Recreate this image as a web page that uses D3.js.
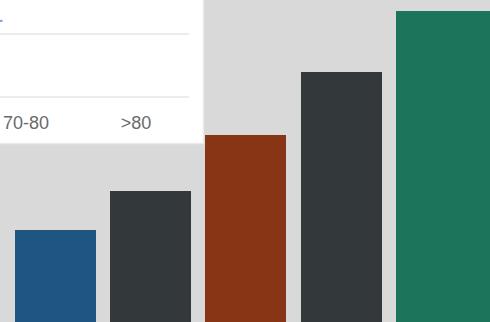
<!DOCTYPE html>
<html><head><meta charset="utf-8">
<script src="https://cdn.jsdelivr.net/npm/d3@7"></script>
<style>html,body{margin:0;padding:0;background:#d9d9d9;overflow:hidden}</style>
</head><body>
<svg id="c" width="490" height="322"></svg>
<script>
const barCategories = ["A","B","C","D","E"];
const barValues = [92, 131, 187, 250, 311];
const barColors = ["#1f5581", "#33383a", "#873514", "#33383a", "#1c755b"];
const insetCategories = ["60-70", "70-80", ">80"];
const insetGridValues = [0, 1];
const insetLine = [{c: "60-70", v: 1.24}];

const svg = d3.select("#c");
svg.append("rect").attr("width",490).attr("height",322).attr("fill","#d9d9d9");

// main bars
const x = d3.scaleBand().domain(barCategories).range([15, 477]).paddingInner(0.1496).paddingOuter(0);
const y = d3.scaleLinear().domain([0, 322]).range([322, 0]);
svg.selectAll("rect.bar").data(barCategories).join("rect")
  .attr("class","bar")
  .attr("x", d => Math.round(x(d))).attr("width", (d,i) => i===4 ? 100 : Math.round(x.bandwidth()))
  .attr("y", (d,i) => y(barValues[i])).attr("height", (d,i) => 322 - y(barValues[i]))
  .attr("fill", (d,i) => barColors[i]);

// inset panel
const g = svg.append("g");
g.append("rect").attr("x",-5).attr("y",-5).attr("width",208.5).attr("height",148.5)
  .attr("fill","#ffffff").attr("stroke","#ebebeb").attr("stroke-width",1.5);
const ix = d3.scalePoint().domain(insetCategories).range([-84, 136]);
const iy = d3.scaleLinear().domain([0,1]).range([97, 34]);
g.selectAll("line.grid").data(insetGridValues).join("line")
  .attr("x1", -10).attr("x2", 189).attr("y1", d => iy(d)).attr("y2", d => iy(d))
  .attr("stroke","#ececec").attr("stroke-width",2);
g.selectAll("text.lab").data(insetCategories.filter(d => ix(d) >= 0)).join("text")
  .attr("x", d => ix(d)).attr("y", 129).attr("text-anchor","middle")
  .attr("font-family","Liberation Sans, Arial, sans-serif").attr("font-size",18)
  .attr("fill","#6a6a6a").text(d => d);
g.append("line").attr("x1",-10).attr("x2",2.5).attr("y1",iy(insetLine[0].v)+2).attr("y2",iy(insetLine[0].v)+2)
  .attr("stroke","#7ba0e2").attr("stroke-width",2);
</script>
</body></html>
